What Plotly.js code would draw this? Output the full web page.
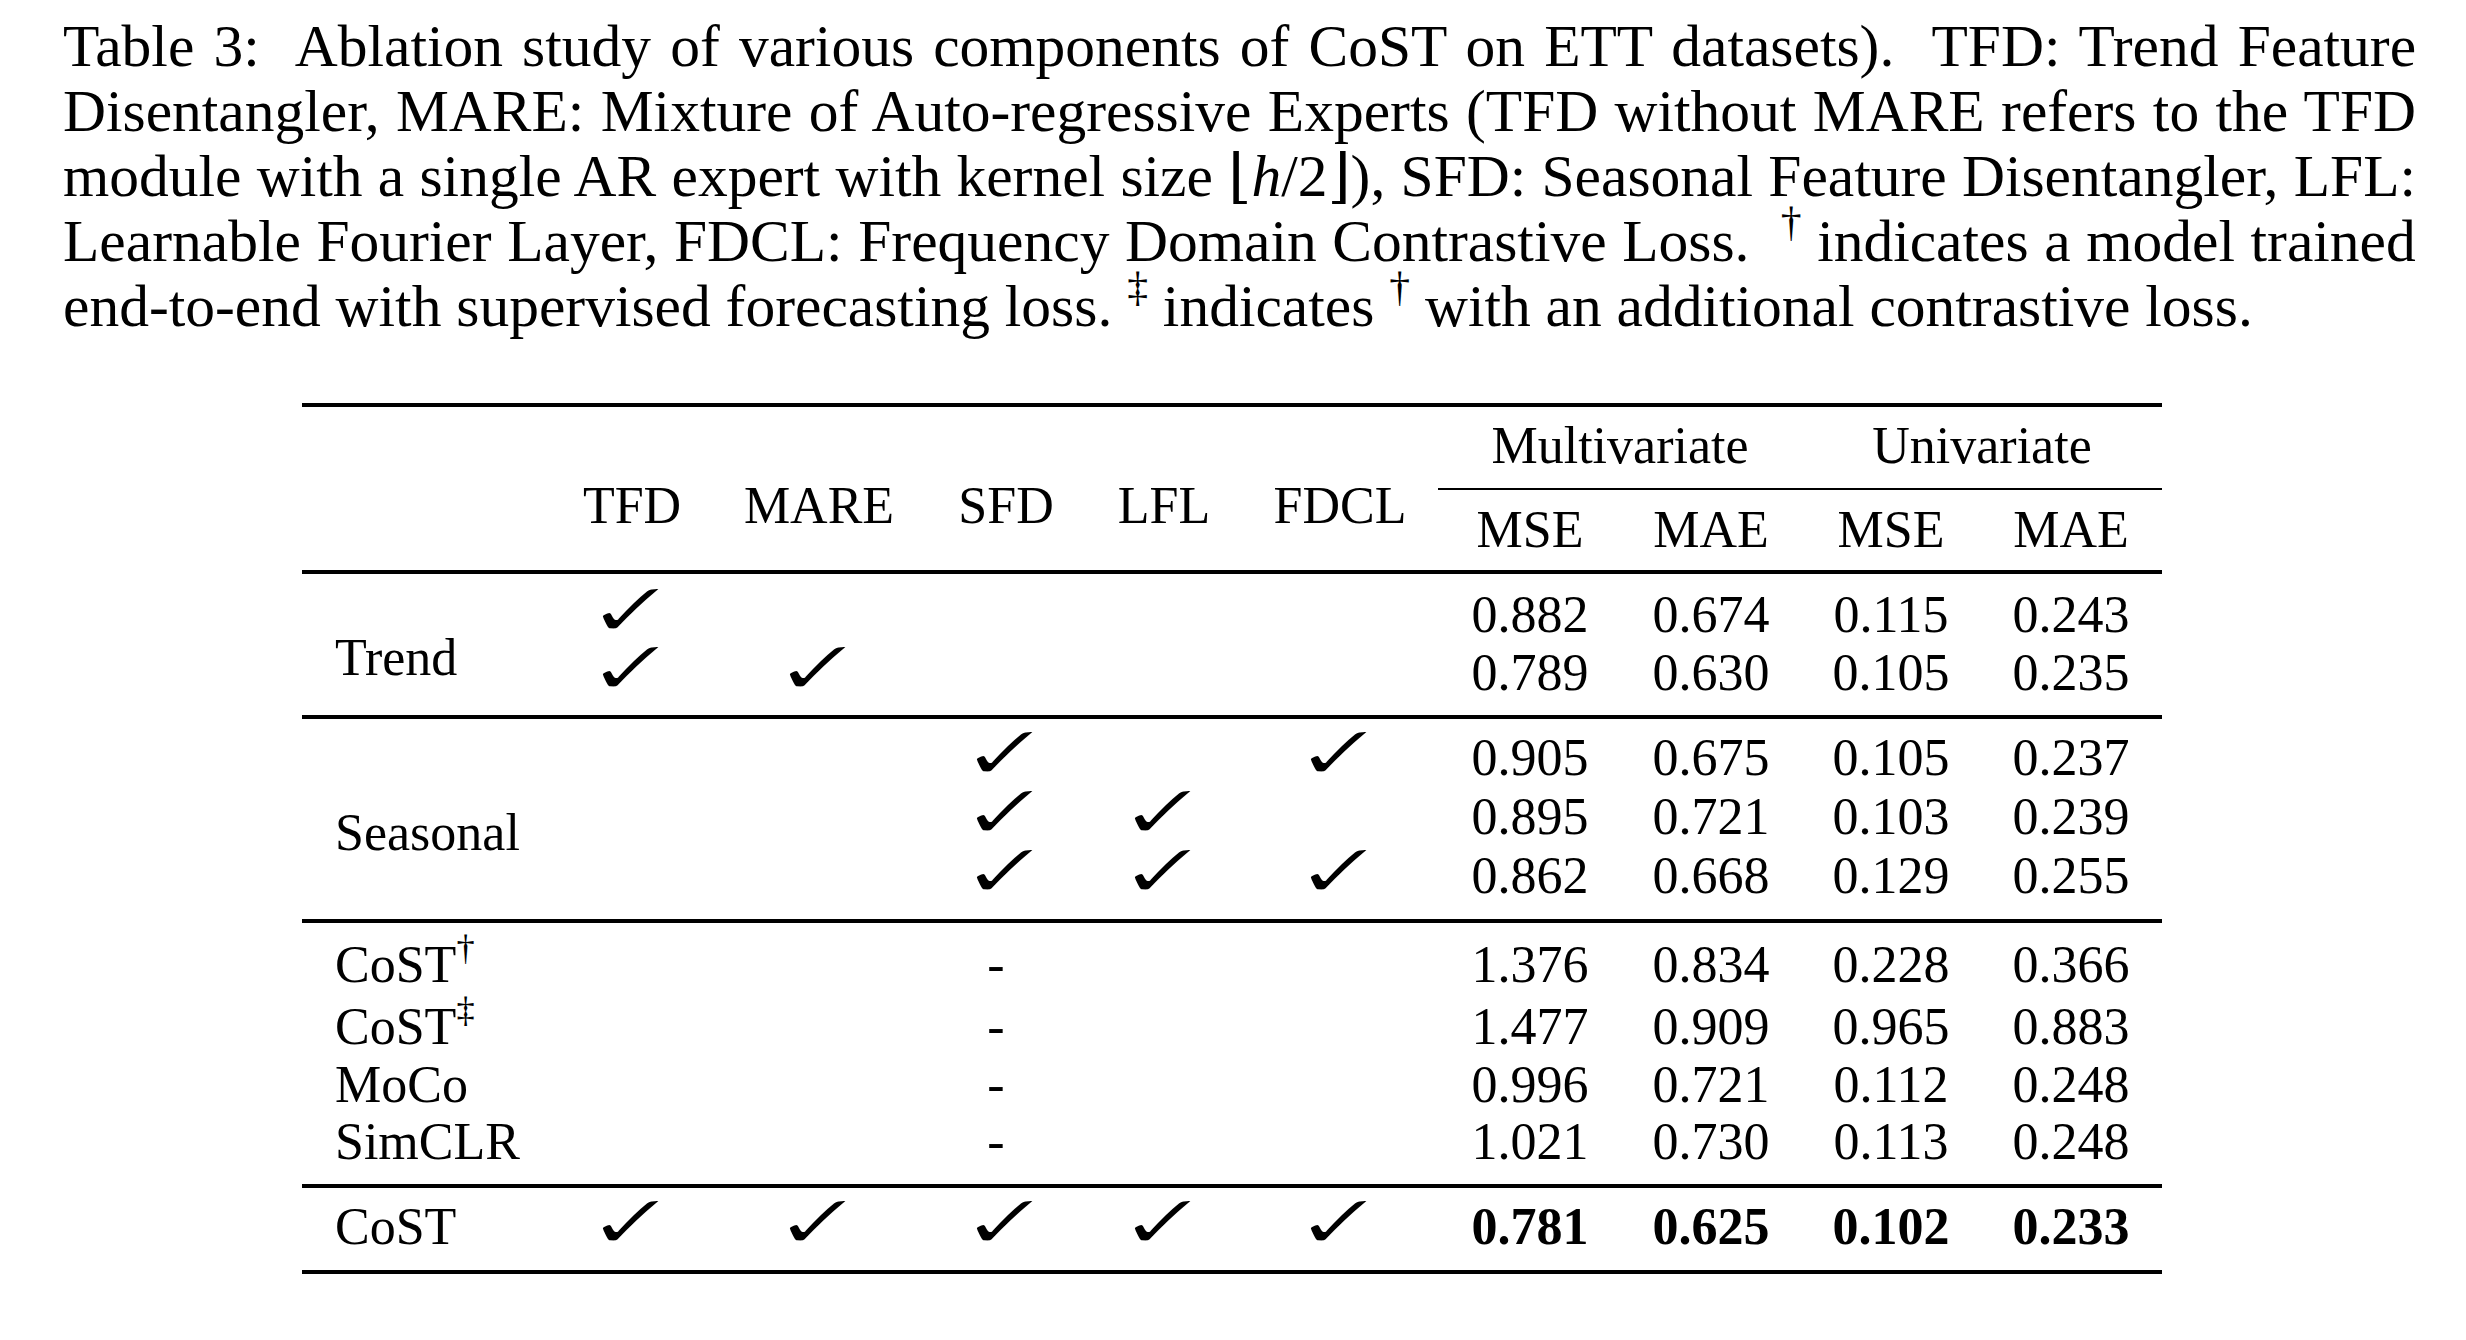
<!DOCTYPE html>
<html><head><meta charset="utf-8">
<script src="https://cdn.plot.ly/plotly-3.0.1.min.js"></script>
<style>html,body{margin:0;padding:0;background:#fff;}#chart{width:2466px;height:1340px;}</style>
</head><body><div id="chart"></div>
<script>
// ---------------- data ----------------
const captionLines = [
  'Table 3:\u00A0 Ablation study of various components of CoST on ETT datasets).\u00A0 TFD: Trend Feature',
  'Disentangler, MARE: Mixture of Auto-regressive Experts (TFD without MARE refers to the TFD',
  'module with a single AR expert with kernel size \u230A<i>h</i>/2\u230B), SFD: Seasonal Feature Disentangler, LFL:',
  'Learnable Fourier Layer, FDCL: Frequency Domain Contrastive Loss.\u00A0 <sup>\u2020</sup> indicates a model trained',
  'end-to-end with supervised forecasting loss. <sup>\u2021</sup> indicates <sup>\u2020</sup> with an additional contrastive loss.'
];
const components = ['TFD', 'MARE', 'SFD', 'LFL', 'FDCL'];
const groupHeaders = ['Multivariate', 'Univariate'];
const metricHeaders = ['MSE', 'MAE', 'MSE', 'MAE'];
const rowGroups = ['Trend', 'Seasonal'];
const modelLabels = ['CoST<sup>\u2020</sup>', 'CoST<sup>\u2021</sup>', 'MoCo', 'SimCLR', 'CoST'];

// component usage per row: 1 = check, '-' = not applicable, 0 = empty
const tfd  = [1, 1, 0, 0, 0, 0, 0, 0, 0, 1];
const mare = [0, 1, 0, 0, 0, 0, 0, 0, 0, 1];
const sfd  = [0, 0, 1, 1, 1, '-', '-', '-', '-', 1];
const lfl  = [0, 0, 0, 1, 1, 0, 0, 0, 0, 1];
const fdcl = [0, 0, 1, 0, 1, 0, 0, 0, 0, 1];

const multiMSE = [0.882, 0.789, 0.905, 0.895, 0.862, 1.376, 1.477, 0.996, 1.021, 0.781];
const multiMAE = [0.674, 0.630, 0.675, 0.721, 0.668, 0.834, 0.909, 0.721, 0.730, 0.625];
const uniMSE   = [0.115, 0.105, 0.105, 0.103, 0.129, 0.228, 0.965, 0.112, 0.113, 0.102];
const uniMAE   = [0.243, 0.235, 0.237, 0.239, 0.255, 0.366, 0.883, 0.248, 0.248, 0.233];
const bestRow = 9;

// ---------------- layout (pixel positions) ----------------
const W = 2466, H = 1340;
const SERIF = 'Liberation Serif, Times New Roman, DejaVu Serif, serif';
const captionX = 63, captionRight = 2416;
const captionY = [51, 116, 181, 246, 311];
const captionSize = 59.5;
const tableSize = 52;
const textDy = 5;
const compX = [632, 819, 1006, 1164, 1340];
const dashDx = -10;
const metricX = [1530, 1711, 1891, 2071];
const groupX = [1620, 1982];
const labelX = 335;
const groupHeaderY = 445, compHeaderY = 505, metricHeaderY = 529;
const rowY = [614, 672, 757, 816, 875, 964, 1026, 1084, 1141, 1226];
const groupLabelY = [657, 832];
const checkDy = 4, checkSize = 78, checkScaleX = 1.45, checkThin = 2;
const CHECKFONT = 'DejaVu Sans, sans-serif';
const tableLeft = 302, tableRight = 2162;
const ruleY = [405, 572, 717, 921, 1186, 1272];
const ruleW = 4;
const cmid = {y: 489, x0: 1438, x1: 2162, w: 2};

// ---------------- traces ----------------
const base = {type: 'scatter', mode: 'text', hoverinfo: 'skip', showlegend: false, cliponaxis: false};
const tf = (size, family) => ({family: family || SERIF, size: size, color: '#000'});
const shiftY = arr => arr.map(v => v + textDy);

const traces = [];
traces.push(Object.assign({}, base, {
  x: captionLines.map(() => captionX), y: captionY, text: captionLines.slice(),
  textposition: 'middle right', textfont: tf(captionSize)
}));
traces.push(Object.assign({}, base, {
  x: compX, y: shiftY(compX.map(() => compHeaderY)), text: components,
  textposition: 'middle center', textfont: tf(tableSize)
}));
traces.push(Object.assign({}, base, {
  x: groupX, y: shiftY(groupX.map(() => groupHeaderY)), text: groupHeaders,
  textposition: 'middle center', textfont: tf(tableSize)
}));
traces.push(Object.assign({}, base, {
  x: metricX, y: shiftY(metricX.map(() => metricHeaderY)), text: metricHeaders,
  textposition: 'middle center', textfont: tf(tableSize)
}));
traces.push(Object.assign({}, base, {
  x: groupLabelY.map(() => labelX), y: shiftY(groupLabelY), text: rowGroups,
  textposition: 'middle right', textfont: tf(tableSize)
}));
traces.push(Object.assign({}, base, {
  x: modelLabels.map(() => labelX), y: shiftY(rowY.slice(5)), text: modelLabels,
  textposition: 'middle right', textfont: tf(tableSize)
}));

const usage = [tfd, mare, sfd, lfl, fdcl];
const ckX = [], ckY = [], dsX = [], dsY = [];
usage.forEach((col, c) => col.forEach((v, r) => {
  if (v === 1) { ckX.push(compX[c]); ckY.push(rowY[r] + checkDy); }
  else if (v === '-') { dsX.push(compX[c] + dashDx); dsY.push(rowY[r] + textDy); }
}));
const CHECK_TRACE = traces.length;
traces.push(Object.assign({}, base, {
  x: ckX, y: ckY, text: ckX.map(() => '\u2713'),
  textposition: 'middle center', textfont: tf(checkSize, CHECKFONT)
}));
traces.push(Object.assign({}, base, {
  x: dsX, y: dsY, text: dsX.map(() => '-'),
  textposition: 'middle center', textfont: tf(tableSize)
}));

[multiMSE, multiMAE, uniMSE, uniMAE].forEach((vals, m) => {
  traces.push(Object.assign({}, base, {
    x: vals.map(() => metricX[m]), y: shiftY(rowY),
    text: vals.map((v, r) => r === bestRow ? '<b>' + v.toFixed(3) + '</b>' : v.toFixed(3)),
    textposition: 'middle center', textfont: tf(tableSize)
  }));
});

const shapes = ruleY.map(y => ({type: 'line', xref: 'x', yref: 'y', x0: tableLeft, x1: tableRight, y0: y, y1: y,
  line: {color: '#000', width: ruleW}}));
shapes.push({type: 'line', xref: 'x', yref: 'y', x0: cmid.x0, x1: cmid.x1, y0: cmid.y, y1: cmid.y,
  line: {color: '#000', width: cmid.w}});

const layout = {
  width: W, height: H, margin: {l: 0, r: 0, t: 0, b: 0, pad: 0},
  paper_bgcolor: '#fff', plot_bgcolor: '#fff',
  xaxis: {range: [0, W], visible: false, fixedrange: true},
  yaxis: {range: [H, 0], visible: false, fixedrange: true},
  shapes: shapes, showlegend: false
};

Plotly.newPlot('chart', traces, layout, {displayModeBar: false, staticPlot: true}).then(gd => {
  // justify the caption lines (all but the last) to the text block width
  const nodes = gd.querySelectorAll('.scatterlayer .trace')[0].querySelectorAll('text');
  const target = captionRight - captionX;
  const newText = captionLines.map((line, i) => {
    if (i === captionLines.length - 1 || !nodes[i]) return line;
    const w = nodes[i].getBBox().width;
    const plain = line.replace(/<[^>]+>/g, '');
    const n = (plain.match(/[ \u00A0]/g) || []).length;
    const ws = n ? (target - w) / n : 0;
    return '<span style="word-spacing:' + ws.toFixed(2) + 'px">' + line + '</span>';
  });
  return Plotly.restyle(gd, {text: [newText]}, [0]);
}).then(() => {
  // widen and thin the check glyphs to the shape of the LaTeX \checkmark
  const gd = document.getElementById('chart');
  const tr = gd.querySelectorAll('.scatterlayer .trace')[CHECK_TRACE];
  if (!tr) return;
  tr.querySelectorAll('text').forEach(t => {
    const b = t.getBBox();
    const cx = b.x + b.width / 2;
    t.setAttribute('transform', 'translate(' + cx + ',0) scale(' + checkScaleX + ',1) translate(' + (-cx) + ',0)');
    t.style.stroke = '#fff';
    t.style.strokeWidth = checkThin + 'px';
    t.style.strokeLinejoin = 'round';
  });
});
</script></body></html>
